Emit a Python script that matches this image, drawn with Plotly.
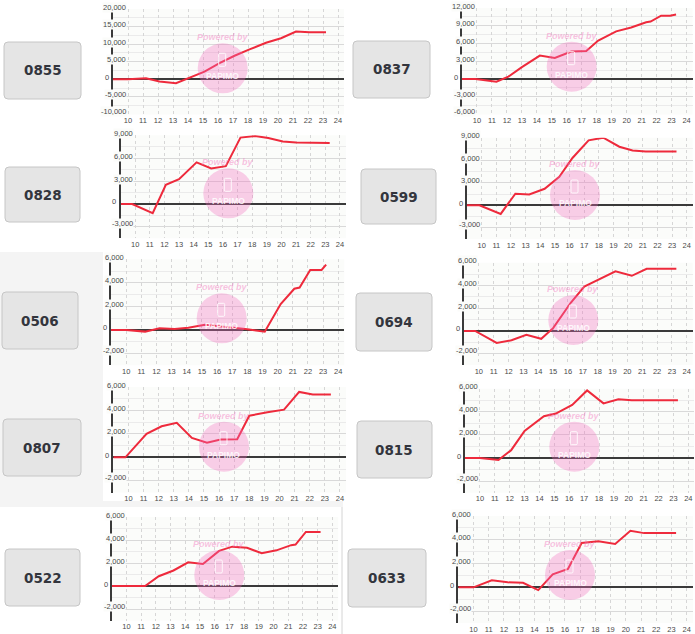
import plotly.graph_objects as go

W, H = 695, 634

# ---------------- data ----------------
codes = ["0855", "0837", "0828", "0599", "0506", "0694", "0807", "0815", "0522", "0633"]

hours_0855 = [9, 10, 11.2, 12.1, 13.2, 14.0, 15.1, 16.1, 17.1, 18.1, 19.2, 20.2, 21.2, 22.1, 23.2]
pnl_0855 = [0, 0, 300, -600, -1100, 300, 2200, 4600, 6700, 8500, 10400, 11700, 13600, 13400, 13400]

hours_0837 = [9, 9.9, 11.3, 12.1, 13.0, 14.2, 15.2, 16.3, 17.3, 18.1, 19.3, 20.3, 21.3, 21.6, 22.3, 22.9, 23.3]
pnl_0837 = [0, 0, -450, 400, 2000, 3950, 3550, 4650, 4750, 6500, 8050, 8700, 9600, 9700, 10700, 10700, 10900]

hours_0828 = [9, 9.8, 11.2, 12.1, 13.0, 14.2, 15.2, 16.2, 17.2, 18.2, 19.1, 20.1, 21.0, 22.0, 23.3]
pnl_0828 = [0, 0, -1200, 2500, 3250, 5450, 4650, 4950, 8700, 8900, 8650, 8200, 8050, 8000, 8000]

hours_0599 = [9, 9.85, 11.3, 12.3, 13.25, 14.3, 15.3, 16.2, 17.3, 18.3, 19.4, 20.3, 21.2, 23.3]
pnl_0599 = [0, 0, -1150, 1550, 1450, 2200, 3800, 6300, 8650, 9000, 7800, 7300, 7150, 7150]

hours_0506 = [9, 10, 11.25, 12.2, 13.2, 14.1, 15.2, 16.1, 17.0, 18.0, 19.15, 20.2, 21.1, 21.45, 22.15, 22.9, 23.2]
pnl_0506 = [0, 0, -140, 140, 80, 190, 450, 330, 200, 60, -150, 2200, 3500, 3600, 5100, 5100, 5550]

hours_0694 = [9, 9.75, 11.2, 12.2, 13.2, 14.2, 15.0, 16.2, 17.1, 18.1, 19.2, 20.3, 21.3, 23.3]
pnl_0694 = [0, 0, -1050, -820, -340, -690, 250, 2500, 3900, 4570, 5250, 4850, 5470, 5470]

hours_0807 = [9, 9.8, 11.2, 12.2, 13.2, 14.2, 15.2, 16.1, 17.2, 18.0, 19.2, 20.3, 21.3, 22.2, 23.4]
pnl_0807 = [0, 0, 2000, 2650, 2950, 1650, 1250, 1520, 1550, 3550, 3850, 4070, 5580, 5370, 5370]

hours_0815 = [9, 10, 11.25, 12.1, 13.0, 14.3, 15.1, 16.2, 17.2, 18.3, 19.3, 20.2, 23.3]
pnl_0815 = [0, 0, -170, 680, 2350, 3620, 3850, 4600, 5850, 4730, 5080, 5000, 5000]

hours_0522 = [9, 11.27, 12.2, 13.2, 14.2, 15.2, 16.3, 17.2, 18.2, 19.2, 20.2, 21.2, 21.5, 22.2, 23.2]
pnl_0522 = [0, 0, 850, 1350, 2060, 1920, 3050, 3420, 3320, 2850, 3100, 3550, 3600, 4700, 4700]

hours_0633 = [9, 10, 11.2, 12.25, 13.25, 14.25, 15.2, 16.2, 17.1, 18.2, 19.3, 20.3, 21.2, 23.3]
pnl_0633 = [0, 0, 600, 420, 380, -230, 1100, 1550, 3730, 3870, 3650, 4750, 4560, 4560]

series_hours = [hours_0855, hours_0837, hours_0828, hours_0599, hours_0506,
                hours_0694, hours_0807, hours_0815, hours_0522, hours_0633]
series_pnl = [pnl_0855, pnl_0837, pnl_0828, pnl_0599, pnl_0506,
              pnl_0694, pnl_0807, pnl_0815, pnl_0522, pnl_0633]

hour_ticks = list(range(10, 25))
y_lo = [-10000, -6000, -4500, -4500, -3000, -3000, -3000, -3000, -3000, -3000]
y_hi = [20000, 12000, 9000, 9000, 6000, 6000, 6000, 6000, 6000, 6000]
y_step = [5000, 3000, 3000, 3000, 2000, 2000, 2000, 2000, 2000, 2000]

# ---------------- geometry (pixels) ----------------
geo = [
    dict(left=113.0, sp=15.00, top=9.0, bottom=114.5, btn=(4, 42, 81, 99), wm=(222.7, 68.3)),
    dict(left=462.0, sp=14.97, top=8.0, bottom=114.5, btn=(353, 41, 430, 98), wm=(571.7, 66.7)),
    dict(left=120.5, sp=14.63, top=135.3, bottom=238.3, btn=(5, 167, 80, 222), wm=(228.3, 193.3)),
    dict(left=467.0, sp=14.65, top=137.7, bottom=239.1, btn=(361, 169, 436, 224), wm=(575.0, 195.0)),
    dict(left=111.0, sp=15.15, top=259.3, bottom=365.3, btn=(2, 292, 78, 349), wm=(221.7, 318.3)),
    dict(left=464.0, sp=14.85, top=262.7, bottom=365.1, btn=(356, 293, 432, 351), wm=(573.3, 320.0)),
    dict(left=113.3, sp=15.11, top=387.0, bottom=492.5, btn=(3, 419, 81, 476), wm=(224.0, 446.7)),
    dict(left=465.0, sp=14.89, top=388.7, bottom=492.7, btn=(357, 421, 432, 478), wm=(574.3, 446.7)),
    dict(left=111.7, sp=14.71, top=517.0, bottom=620.5, btn=(5, 549, 80, 606), wm=(219.3, 575.0)),
    dict(left=458.3, sp=15.23, top=516.0, bottom=623.0, btn=(348, 549, 426, 607), wm=(570.0, 575.0)),
]
X_LO, X_HI = 9, 24.4
PLOT_BG = "#fbfcfa"


def X(x):
    return x / W


def Y(y):
    return 1 - y / H


def rrect(x0, y0, x1, y1, r):
    return (f"M {X(x0 + r)},{Y(y0)} L {X(x1 - r)},{Y(y0)} Q {X(x1)},{Y(y0)} {X(x1)},{Y(y0 + r)} "
            f"L {X(x1)},{Y(y1 - r)} Q {X(x1)},{Y(y1)} {X(x1 - r)},{Y(y1)} "
            f"L {X(x0 + r)},{Y(y1)} Q {X(x0)},{Y(y1)} {X(x0)},{Y(y1 - r)} "
            f"L {X(x0)},{Y(y0 + r)} Q {X(x0)},{Y(y0)} {X(x0 + r)},{Y(y0)} Z")


fig = go.Figure()
layout = dict(
    width=W, height=H, autosize=False,
    margin=dict(l=0, r=0, t=0, b=0, pad=0),
    paper_bgcolor="white", plot_bgcolor=PLOT_BG,
    showlegend=False,
)
shapes = []
annotations = []

TICKFONT = dict(family="Liberation Sans, Arial, sans-serif", size=7.5, color="#4a4a4a")

# background gray areas
shapes.append(dict(type="rect", xref="paper", yref="paper", layer="below",
                   x0=X(0), x1=X(103), y0=Y(507), y1=Y(252),
                   fillcolor="#f4f4f4", line=dict(width=0)))
shapes.append(dict(type="rect", xref="paper", yref="paper", layer="below",
                   x0=X(103), x1=X(343), y0=Y(507), y1=Y(501),
                   fillcolor="#f4f4f4", line=dict(width=0)))
shapes.append(dict(type="line", xref="paper", yref="paper", layer="below",
                   x0=X(342), x1=X(342), y0=Y(634), y1=Y(507),
                   line=dict(color="#d4d4d4", width=1)))

for i, code in enumerate(codes):
    g = geo[i]
    n = "" if i == 0 else str(i + 1)
    xa, ya = "x" + n, "y" + n
    right = g["left"] + (X_HI - X_LO) * g["sp"]

    fig.add_trace(go.Scatter(
        x=series_hours[i], y=series_pnl[i], mode="lines",
        line=dict(color="#ee2a3c", width=2), hoverinfo="skip",
        xaxis=xa, yaxis=ya,
    ))

    start = y_lo[i] if y_lo[i] % y_step[i] == 0 else y_lo[i] + y_step[i] // 2
    yt = list(range(start, y_hi[i] + 1, y_step[i]))

    layout["xaxis" + n] = dict(
        domain=[X(g["left"]), X(right)], anchor=ya, range=[X_LO, X_HI],
        tickmode="array", tickvals=hour_ticks, ticktext=[str(h) for h in hour_ticks],
        showgrid=True, gridcolor="#d6d6d6", griddash="dot", gridwidth=1,
        zeroline=False, showline=False, ticks="", tickfont=TICKFONT,
        ticklabelstandoff=0, fixedrange=True,
    )
    layout["yaxis" + n] = dict(
        domain=[Y(g["bottom"]), Y(g["top"])], anchor=xa, range=[y_lo[i], y_hi[i]],
        tickmode="array", tickvals=yt, showticklabels=False,
        showgrid=True, gridcolor="#d9d9d9", gridwidth=1,
        minor=dict(dtick=y_step[i] / 2, tick0=0, showgrid=True, gridcolor="#ebebeb", gridwidth=1),
        zeroline=True, zerolinecolor="#3a3a3a", zerolinewidth=2,
        showline=True, linecolor="#3a3a3a", linewidth=2, ticks="",
        fixedrange=True,
    )

    # y tick labels: drawn on the axis with a background box (interrupting the axis line)
    for v in yt:
        if v == 0:
            annotations.append(dict(text="0", xref=xa, yref=ya, x=X_LO, y=0,
                                    xanchor="right", yanchor="middle", xshift=-2, yshift=2,
                                    showarrow=False, font=TICKFONT))
        else:
            annotations.append(dict(text=f"{v:,}", xref=xa, yref=ya, x=X_LO, y=v,
                                    xanchor="right", yanchor="middle", xshift=14,
                                    yshift=3 if v == yt[0] else 2,
                                    showarrow=False, font=TICKFONT, bgcolor=PLOT_BG, borderpad=0))

    # button
    bx0, by0, bx1, by1 = g["btn"]
    shapes.append(dict(type="path", xref="paper", yref="paper", path=rrect(bx0, by0, bx1, by1, 4),
                       fillcolor="#e5e5e5", line=dict(color="#c6c6c6", width=1), layer="above"))
    annotations.append(dict(text=f"<b>{code}</b>", x=X((bx0 + bx1) / 2), y=Y((by0 + by1) / 2),
                            xref="paper", yref="paper", xanchor="center", yanchor="middle",
                            showarrow=False,
                            font=dict(family="DejaVu Sans, Verdana, sans-serif", size=13.5, color="#33353d")))

    # watermark
    cx, cy = g["wm"]
    r = 25
    shapes.append(dict(type="circle", xref="paper", yref="paper", layer="above",
                       x0=X(cx - r), x1=X(cx + r), y0=Y(cy + r), y1=Y(cy - r),
                       fillcolor="rgba(242,110,190,0.33)", line=dict(width=0)))
    shapes.append(dict(type="path", xref="paper", yref="paper", layer="above",
                       path=rrect(cx - 4, cy - 15, cx + 3, cy - 2, 1.2),
                       fillcolor="rgba(0,0,0,0)", line=dict(color="rgba(255,255,255,0.85)", width=1)))
    annotations.append(dict(text="<b><i>Powered by</i></b>", x=X(cx), y=Y(cy - 31),
                            xref="paper", yref="paper", xanchor="center", yanchor="middle",
                            showarrow=False,
                            font=dict(family="Liberation Sans, Arial, sans-serif", size=9,
                                      color="rgba(242,120,190,0.45)")))
    annotations.append(dict(text="<b>PAPIMO</b>", x=X(cx), y=Y(cy + 8),
                            xref="paper", yref="paper", xanchor="center", yanchor="middle",
                            showarrow=False,
                            font=dict(family="Liberation Sans, Arial, sans-serif", size=8.5,
                                      color="rgba(255,255,255,0.85)")))

layout["shapes"] = shapes
layout["annotations"] = annotations
fig.update_layout(**layout)
fig.write_html("out.html")
